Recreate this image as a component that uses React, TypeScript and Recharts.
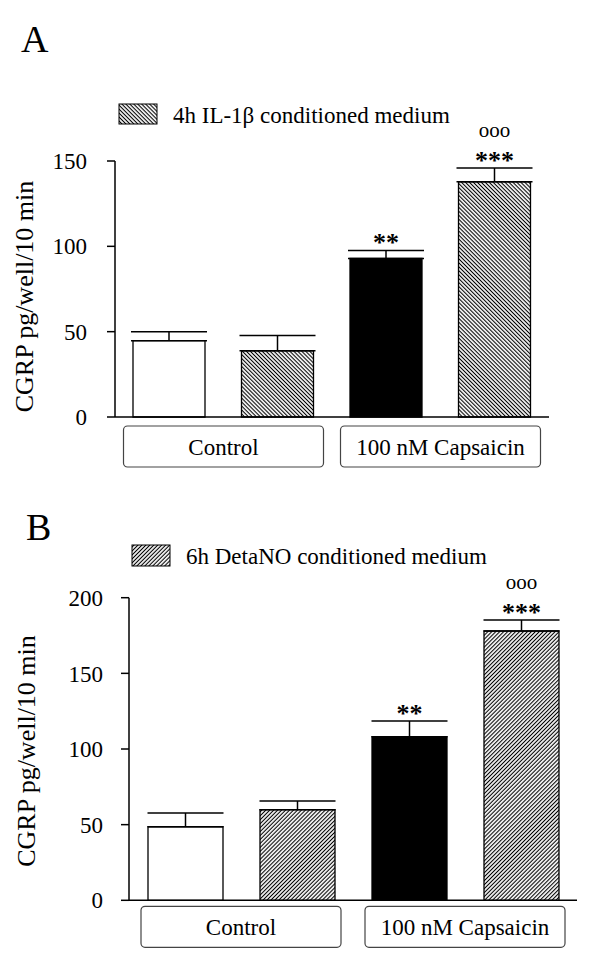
import { BarChart, Bar, XAxis, YAxis, ErrorBar, LabelList, Cell } from 'recharts'

const CATEGORIES = ['Control', 'Control + medium', 'Capsaicin', 'Capsaicin + medium']
const GROUPS = ['Control', '100 nM Capsaicin']
const MARKS = ['', '', '**', '***']
const CIRCLES = ['', '', '', 'ooo']

const A_VALUES = [44.7, 38.8, 92.9, 137.8]
const A_ERRORS = [5.3, 9.0, 4.7, 8.1]
const A_TICKS = [0, 50, 100, 150]

const B_VALUES = [48.6, 59.9, 108.1, 178.0]
const B_ERRORS = [9.1, 5.7, 10.4, 7.3]
const B_TICKS = [0, 50, 100, 150, 200]

const FILLS = ['open', 'hatch', 'solid', 'hatch']
const SERIF = 'Liberation Serif, DejaVu Serif, serif'
const Y_LABEL = 'CGRP pg/well/10 min'

type PanelProps = {
    id: string
    values: number[]
    errors: number[]
    ticks: number[]
    top: number
    height: number
    plotTop: number
    plotBottom: number
    axisX: number
    axisRight: number
    barSize: number
    hatchAngle: number
    tickGap: number
    boxGap: number
    labelX: number
    labelShift: number
}

function hatchPattern(id: string, angle: number) {
    return (
        <pattern id={id} patternUnits="userSpaceOnUse" width={2.8} height={2.8} patternTransform={`rotate(${angle})`}>
            <rect width={2.8} height={2.8} fill="#fff" />
            <line x1={1.4} y1={0} x2={1.4} y2={2.8} stroke="#000" strokeWidth={1.1} />
        </pattern>
    )
}

function Panel(p: PanelProps) {
    const data = CATEGORIES.map((name, i) => ({
        name,
        value: p.values[i],
        err: [0, p.errors[i]],
        errTop: p.errors[i],
    }))
    const patternId = `hatch-${p.id}`
    const band = (p.axisRight - p.axisX) / CATEGORIES.length
    const plotTop = p.plotTop - p.top
    const plotBottom = p.plotBottom - p.top

    const fillOf = (kind: string) => (kind === 'solid' ? '#000' : kind === 'hatch' ? `url(#${patternId})` : '#fff')

    const groupTick = (props: any) => {
        const { x, y, index } = props
        if (index % 2 !== 0) return <g />
        const cx = x + band / 2
        const top = y + p.boxGap
        return (
            <g>
                <rect x={cx - 100} y={top} width={200} height={41} rx={4} fill="#fff" stroke="#444" strokeWidth={1.2} />
                <text x={cx} y={top + 28.5} textAnchor="middle" style={{ fontFamily: SERIF }} fontSize={23} fill="#000">
                    {GROUPS[index / 2]}
                </text>
            </g>
        )
    }

    const marks = (props: any) => {
        const vb = props.viewBox ?? {}
        const x = props.x ?? vb.x
        const y = props.y ?? vb.y
        const width = props.width ?? vb.width
        const i = CATEGORIES.indexOf(props.value)
        const cx = x + width / 2
        return (
            <g>
                {MARKS[i] && (
                    <text x={cx} y={y + 1} textAnchor="middle" style={{ fontFamily: SERIF }} fontWeight="bold" fontSize={26} fill="#000">
                        {MARKS[i]}
                    </text>
                )}
                {CIRCLES[i] && (
                    <text x={cx} y={y - 31} textAnchor="middle" style={{ fontFamily: SERIF }} fontSize={21} fill="#000">
                        {CIRCLES[i]}
                    </text>
                )}
            </g>
        )
    }

    const yLabel = (props: any) => {
        const vb = props.viewBox ?? { y: plotTop, height: plotBottom - plotTop }
        const cy = vb.y + vb.height / 2 + p.labelShift
        return (
            <text x={p.labelX} y={cy} transform={`rotate(-90 ${p.labelX} ${cy})`} textAnchor="middle" style={{ fontFamily: SERIF }} fontSize={26} fill="#000">
                {Y_LABEL}
            </text>
        )
    }

    return (
        <div style={{ position: 'absolute', left: 0, top: p.top, width: 600, height: p.height, fontFamily: SERIF }}>
            <BarChart
                width={600}
                height={p.height}
                data={data}
                barSize={p.barSize}
                margin={{ top: plotTop, right: 600 - p.axisRight, bottom: p.height - plotBottom - 30, left: 0 }}
            >
                <defs>{hatchPattern(patternId, p.hatchAngle)}</defs>
                <XAxis
                    dataKey="name"
                    height={30}
                    interval={0}
                    axisLine={{ stroke: '#000', strokeWidth: 1.5 }}
                    tickLine={false}
                    tickSize={0}
                    tickMargin={0}
                    tick={groupTick}
                />
                <YAxis
                    type="number"
                    width={p.axisX}
                    domain={[0, p.ticks[p.ticks.length - 1]]}
                    ticks={p.ticks}
                    interval={0}
                    axisLine={{ stroke: '#000', strokeWidth: 1.5 }}
                    tickLine={{ stroke: '#000', strokeWidth: 1.5 }}
                    tickSize={8}
                    tickMargin={p.tickGap}
                    tick={{ style: { fontFamily: SERIF }, fontSize: 23, fill: '#000' }}
                    label={yLabel}
                />
                <Bar dataKey="value" stackId="s" stroke="#000" strokeWidth={1.3} isAnimationActive={false}>
                    {data.map((d, i) => (
                        <Cell key={d.name} fill={fillOf(FILLS[i])} stroke="#000" strokeWidth={1.3} />
                    ))}
                    <ErrorBar dataKey="err" width={38} stroke="#000" strokeWidth={1.5} direction="y" />
                </Bar>
                <Bar dataKey="errTop" stackId="s" fill="none" stroke="none" isAnimationActive={false}>
                    <LabelList dataKey="name" content={marks} />
                </Bar>
            </BarChart>
        </div>
    )
}

export default function App() {
    return (
        <div style={{ position: 'absolute', left: 0, top: 0, width: 600, height: 957, background: '#fff', fontFamily: SERIF }}>
            <Panel
                id="a"
                values={A_VALUES}
                errors={A_ERRORS}
                ticks={A_TICKS}
                top={0}
                height={480}
                plotTop={161}
                plotBottom={417}
                axisX={115}
                axisRight={549}
                barSize={72}
                hatchAngle={-45}
                tickGap={20}
                boxGap={9}
                labelX={33}
                labelShift={7.5}
            />
            <Panel
                id="b"
                values={B_VALUES}
                errors={B_ERRORS}
                ticks={B_TICKS}
                top={480}
                height={477}
                plotTop={597.7}
                plotBottom={900.3}
                axisX={129}
                axisRight={577}
                barSize={75}
                hatchAngle={45}
                tickGap={18}
                boxGap={6}
                labelX={35}
                labelShift={2}
            />
            <svg width={600} height={957} style={{ position: 'absolute', left: 0, top: 0, pointerEvents: 'none', fontFamily: SERIF }}>
                <defs>
                    {hatchPattern('legend-a', -45)}
                    {hatchPattern('legend-b', 45)}
                </defs>
                <text x={21} y={52} fontSize={38} fill="#000">A</text>
                <rect x={119} y={104} width={38} height={20} fill="url(#legend-a)" stroke="#000" strokeWidth={1} />
                <text x={173} y={123} fontSize={23} fill="#000">4h IL-1β conditioned medium</text>
                <text x={26} y={540} fontSize={38} fill="#000">B</text>
                <rect x={132} y={545} width={38} height={21} fill="url(#legend-b)" stroke="#000" strokeWidth={1} />
                <text x={186} y={564} fontSize={23} fill="#000">6h DetaNO conditioned medium</text>
            </svg>
        </div>
    )
}
